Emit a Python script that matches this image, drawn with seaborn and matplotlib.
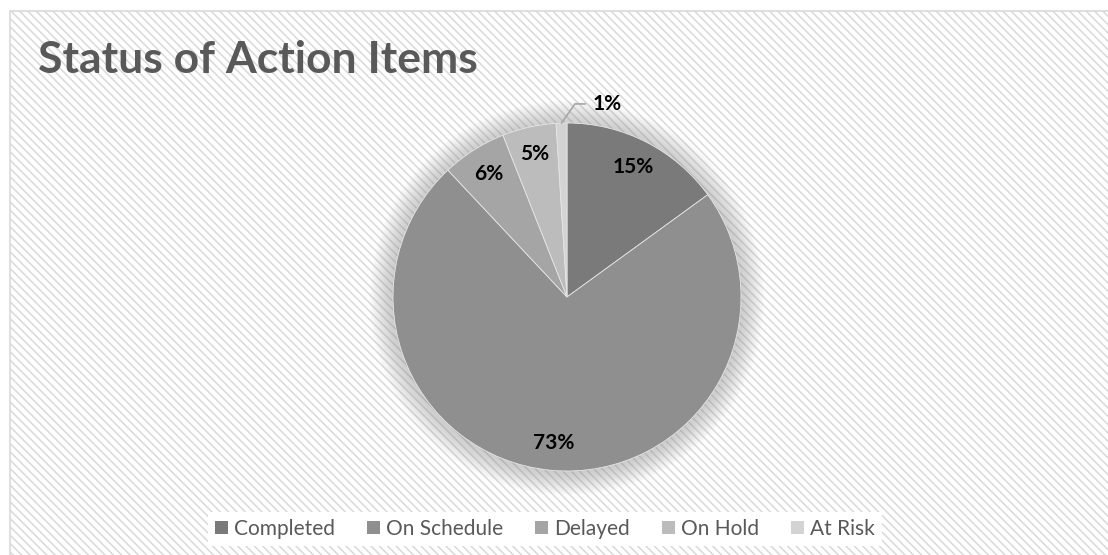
import numpy as np
import seaborn as sns
import matplotlib.pyplot as plt
from matplotlib.patches import Rectangle, Circle

statuses = ["Completed", "On Schedule", "Delayed", "On Hold", "At Risk"]
shares = [15, 73, 6, 5, 1]
pct_labels = ["15%", "73%", "6%", "5%", "1%"]
grays = ["#7a7a7a", "#8f8f8f", "#a5a5a5", "#bcbcbc", "#d3d3d3"]

sns.set_theme(style="white")
plt.rcParams["font.family"] = ["Lato", "DejaVu Sans"]
plt.rcParams["hatch.linewidth"] = 1.1
plt.rcParams["hatch.color"] = "#ededed"

W, H = 1108, 555
fig = plt.figure(figsize=(W / 100, H / 100), dpi=100)
fig.patch.set_facecolor("white")

# background axes holding the striped chart area (cut off at right/bottom)
bga = fig.add_axes([0, 0, 1, 1], zorder=-10)
bga.set_xlim(0, W)
bga.set_ylim(H, 0)
bga.axis("off")
bga.add_patch(Rectangle((10, 11), W, H, facecolor="white", edgecolor="#d9d9d9",
                        linewidth=1.2, hatch="\\\\\\\\"))
bga.text(38, 60, "Status of Action Items", fontsize=32, fontweight="bold",
         color="#595959", va="center", ha="left")

# pie axes: centre (567, 297), radius ~174 px
r_px = 174
ax = fig.add_axes([(567 - r_px) / W, (H - 297 - r_px) / H, 2 * r_px / W, 2 * r_px / H])
ax.set_aspect("equal")
ax.patch.set_alpha(0)

# soft shadow around the pie
for k in range(18):
    ax.add_patch(Circle((0, -0.005), 1.0 + 0.0075 * (k + 1), facecolor="#909090",
                        alpha=0.028, edgecolor="none", zorder=0, clip_on=False))

wedges, _ = ax.pie(shares, colors=grays, startangle=90, counterclock=False,
                   wedgeprops=dict(linewidth=0.6, edgecolor="#e6e6e6"), radius=1.0)
for w in wedges:
    w.set_zorder(2)

for w, lab, v in zip(wedges, pct_labels, shares):
    ang = np.deg2rad((w.theta1 + w.theta2) / 2)
    if v >= 3:
        ax.text(0.84 * np.cos(ang), 0.84 * np.sin(ang), lab, ha="center", va="center",
                fontsize=15, fontweight="bold", color="black", zorder=3)
    else:
        x0, y0 = np.cos(ang), np.sin(ang)
        ax.annotate(lab, xy=(x0, y0), xytext=(x0 + 0.18, y0 + 0.11), ha="left", va="center",
                    fontsize=15, fontweight="bold", color="black", zorder=3,
                    arrowprops=dict(arrowstyle="-", color="#a6a6a6", lw=1.2,
                                    connectionstyle="angle,angleA=0,angleB=55,rad=0",
                                    shrinkA=3, shrinkB=0))

ax.set_xlim(-1, 1)
ax.set_ylim(-1, 1)
ax.axis("off")

handles = [Rectangle((0, 0), 1, 1, facecolor=c, edgecolor="none") for c in grays]
leg = fig.legend(handles, statuses, loc="center", bbox_to_anchor=(545 / W, 1 - 529 / H),
                 ncol=5, frameon=True, fontsize=15, handlelength=0.6, handleheight=0.6,
                 handletextpad=0.3, columnspacing=1.55, borderpad=0.35, fancybox=False)
leg.get_frame().set_facecolor("white")
leg.get_frame().set_edgecolor("none")
leg.get_frame().set_alpha(1)
for t in leg.get_texts():
    t.set_color("#595959")

fig.savefig("out.png", dpi=100, facecolor="white")
